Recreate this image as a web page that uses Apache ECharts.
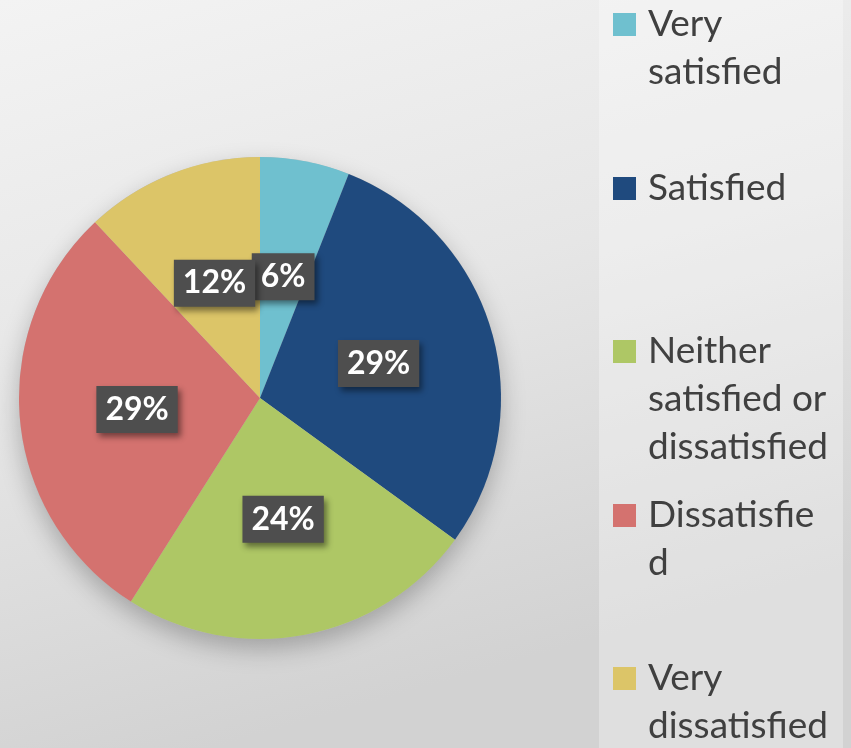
<!DOCTYPE html>
<html>
<head>
<meta charset="utf-8">
<script src="https://cdn.jsdelivr.net/npm/echarts@6/dist/echarts.min.js"></script>
<style>
html,body{margin:0;padding:0;}
#chart{width:851px;height:748px;}
</style>
</head>
<body>
<div id="chart"></div>
<script>
var categories = ['Very satisfied', 'Satisfied', 'Neither satisfied or dissatisfied', 'Dissatisfied', 'Very dissatisfied'];
var legendLabels = ['Very\nsatisfied', 'Satisfied', 'Neither\nsatisfied or\ndissatisfied', 'Dissatisfie\nd', 'Very\ndissatisfied'];
var values = [6, 29, 24, 29, 12];
var colors = ['#6fc0cf', '#1f4a7e', '#aec765', '#d4726f', '#dcc568'];

var LH = 48;
var legendIconTops = [11, 175, 338, 502, 665];

var chart = echarts.init(document.getElementById('chart'));

var ICON_W = 30, SQ = 23;
var legends = categories.map(function (name, i) {
  var lines = legendLabels[i].split('\n').length;
  var H = lines * LH;
  var y0 = (LH - SQ) / 2;
  var path = 'path://M0,0L0,0M' + ICON_W + ',' + H + 'L' + ICON_W + ',' + H +
    'M0,' + y0 + 'L' + SQ + ',' + y0 + 'L' + SQ + ',' + (y0 + SQ) + 'L0,' + (y0 + SQ) + 'Z';
  return {
    data: [name],
    orient: 'vertical',
    left: 613,
    top: legendIconTops[i] - y0 + 2,
    padding: 0,
    icon: path,
    itemWidth: ICON_W,
    itemHeight: H,
    itemGap: 0,
    selectedMode: false,
    formatter: function () { return legendLabels[i]; },
    textStyle: {
      fontFamily: 'Lato',
      fontSize: 37,
      lineHeight: LH,
      color: '#404040'
    }
  };
});

var option = {
  backgroundColor: {
    type: 'linear', x: 0, y: 0, x2: 0.25, y2: 1,
    colorStops: [{offset: 0, color: '#f3f3f3'}, {offset: 0.5, color: '#e6e6e6'}, {offset: 1, color: '#d2d2d2'}]
  },
  animation: false,
  color: colors,
  graphic: [{
    type: 'rect',
    shape: {x: 599, y: 0, width: 244, height: 748},
    style: {fill: 'rgba(255,255,255,0.3)'},
    z: -10
  }],
  legend: legends,
  series: [{
    type: 'pie',
    name: 'shadow',
    center: [260, 398],
    radius: 241,
    silent: true,
    z: 1,
    label: {show: false},
    labelLine: {show: false},
    itemStyle: {color: '#bbbbbb', shadowBlur: 25, shadowOffsetY: 10, shadowColor: 'rgba(0,0,0,0.25)'},
    data: [{name: '_bg', value: 1}]
  }, {
    type: 'pie',
    name: 'Satisfaction',
    center: [260, 398],
    radius: 241,
    startAngle: 90,
    clockwise: true,
    z: 2,
    avoidLabelOverlap: false,
    labelLayout: {hideOverlap: false},
    itemStyle: {borderWidth: 0},
    label: {
      show: true,
      position: 'inside',
      formatter: '{c}%',
      fontFamily: 'Lato',
      fontWeight: 'bold',
      fontSize: 32,
      lineHeight: 31,
      color: '#ffffff',
      backgroundColor: '#4e4e4e',
      padding: [8, 9, 8, 9],
      shadowColor: 'rgba(0,0,0,0.45)',
      shadowBlur: 6,
      shadowOffsetX: 3,
      shadowOffsetY: 4
    },
    labelLine: {show: false},
    emphasis: {disabled: true},
    data: categories.map(function (c, i) { return {name: c, value: values[i]}; })
  }]
};
chart.setOption(option);
</script>
</body>
</html>
